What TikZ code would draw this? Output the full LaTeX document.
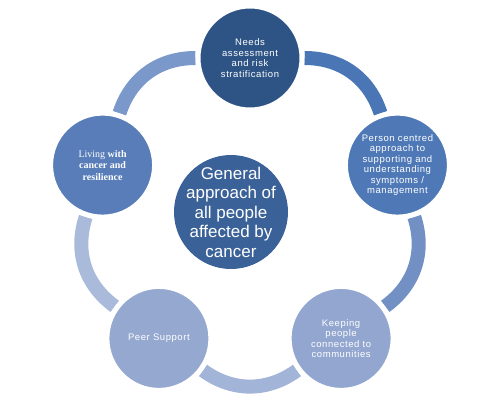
\documentclass[tikz,border=0pt]{standalone}
\usepackage{fontspec}
\setmainfont{Liberation Sans}
\newfontfamily\spaced[LetterSpace=6]{Liberation Sans}
\newfontfamily\serifface{Liberation Serif}
\usetikzlibrary{backgrounds}
\definecolor{cTop}{HTML}{2E5486}
\definecolor{cRight}{HTML}{4F79B6}
\definecolor{cBR}{HTML}{92A6CF}
\definecolor{cBL}{HTML}{94A8D0}
\definecolor{cLeft}{HTML}{587DB9}
\definecolor{cCenter}{HTML}{3B6298}
\definecolor{aLT}{HTML}{7B98CB}
\definecolor{aTR}{HTML}{4A76B6}
\definecolor{aRB}{HTML}{7390C4}
\definecolor{aBB}{HTML}{A2B4D8}
\definecolor{aBL}{HTML}{A9BADB}
\begin{document}
\begin{tikzpicture}[x=1pt,y=1pt]
\useasboundingbox (-250,-187) rectangle (250,213);
\tikzset{
  bubble/.style={circle, minimum size=104pt, inner sep=0pt, draw=white, line width=5pt, text=white, align=center},
  smalltext/.style={font=\spaced\fontsize{9.5}{10.5}\selectfont},
  link/.style={line width=14pt},
}
\node[bubble, fill=cTop, smalltext] (top) at (90:155) {Needs\\assessment\\and risk\\stratification};
\node[bubble, fill=cRight, smalltext] (right) at (18:155) {Person centred\\approach to\\supporting and\\understanding\\symptoms /\\management};
\node[bubble, fill=cBR, smalltext] (br) at (-54:155) {Keeping\\people\\connected to\\communities};
\node[bubble, fill=cBL, smalltext] (bl) at (-126:155) {Peer Support};
\node[bubble, fill=cLeft, font=\serifface\fontsize{10}{11.5}\selectfont] (left) at (162:155) {Living \textbf{with}\\\textbf{cancer and}\\\textbf{resilience}};
\node[circle, fill=cCenter, minimum size=114pt, inner sep=0pt] (center) at (-19,1) {};
\node[text=white, align=center, inner sep=0pt, font=\fontsize{17}{19.5}\selectfont] (centertext) at (center) {General\\approach of\\all people\\affected by\\cancer};
\begin{scope}[on background layer]
\draw[link, aLT] (left) to[bend left=36] (top);
\draw[link, aTR] (top) to[bend left=36] (right);
\draw[link, aRB] (right) to[bend left=36] (br);
\draw[link, aBB] (br) to[bend left=36] (bl);
\draw[link, aBL] (bl) to[bend left=36] (left);
\end{scope}
\end{tikzpicture}
\end{document}
